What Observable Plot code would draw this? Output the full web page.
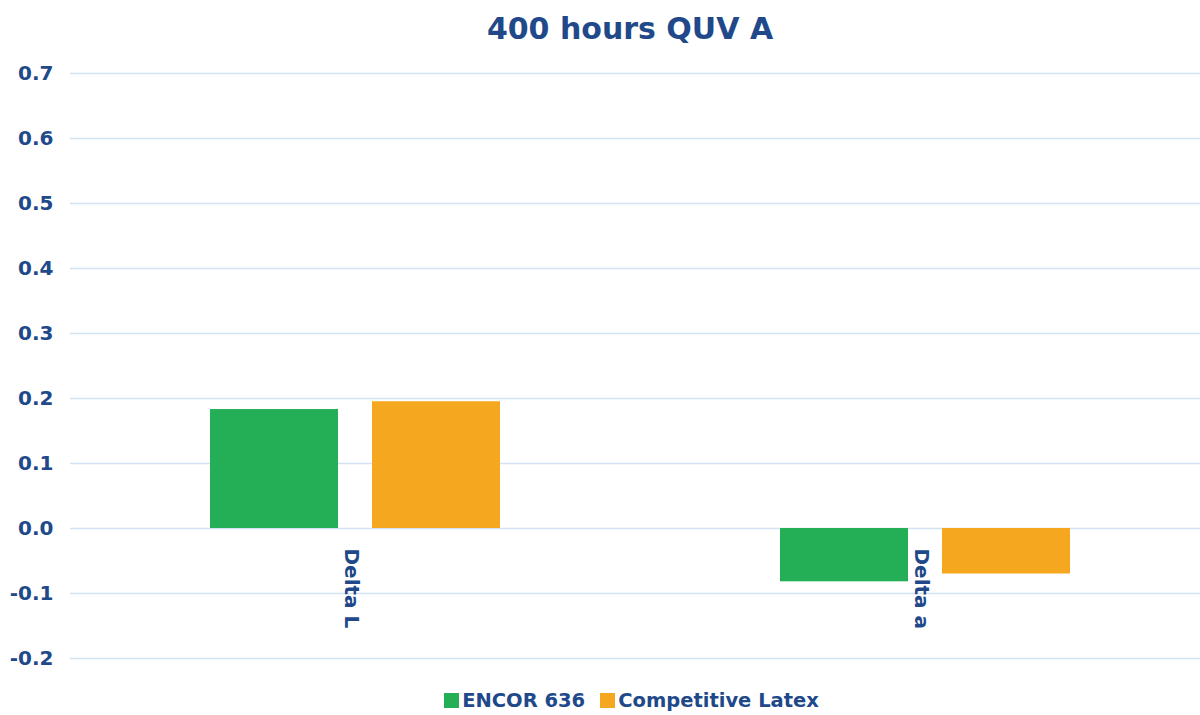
<!DOCTYPE html>
<html>
<head>
<meta charset="utf-8">
<script src="https://cdn.jsdelivr.net/npm/d3@7"></script>
<script src="https://cdn.jsdelivr.net/npm/@observablehq/plot@0.6"></script>
<style>
  html, body { margin: 0; padding: 0; background: #fff; }
  body { width: 1200px; height: 715px; overflow: hidden; font-family: "DejaVu Sans", Verdana, sans-serif; font-weight: bold; color: #21498A; }
  #title { height: 55px; line-height: 58px; text-align: center; font-size: 30px; padding-left: 60px; }
  #legend { height: 30px; display: flex; justify-content: center; align-items: center; font-size: 19.5px; padding-left: 78px; }
  .sw { width: 15px; height: 15px; display: inline-block; margin-right: 3px; }
  .item { display: flex; align-items: center; margin-right: 15px; }
  svg { display: block; }
</style>
</head>
<body>
<div id="title">400 hours QUV A</div>
<div id="chart"></div>
<div id="legend"></div>
<script>
const categories = ["Delta L", "Delta a"];
const series = ["ENCOR 636", "Competitive Latex"];
const encorValues = [0.183, -0.082];
const competitiveValues = [0.195, -0.070];
const yTicks = [-0.2, -0.1, 0.0, 0.1, 0.2, 0.3, 0.4, 0.5, 0.6, 0.7];
const colors = ["#24AE55", "#F5A81F"];
const textColor = "#21498A";
const gridColor = "#D2E3F3";

const data = [];
categories.forEach((c, i) => {
  data.push({category: c, series: series[0], value: encorValues[i]});
  data.push({category: c, series: series[1], value: competitiveValues[i]});
});

const chart = Plot.plot({
  width: 1200,
  height: 630,
  marginTop: 18,
  marginBottom: 27,
  marginLeft: 69,
  marginRight: 0,
  style: {fontFamily: "DejaVu Sans, sans-serif", fontWeight: "bold", color: textColor, background: "#fff", overflow: "visible"},
  fx: {domain: categories, range: [69, 1210], padding: 0, axis: null},
  x: {domain: series, paddingInner: 0.21, paddingOuter: 0.864, axis: null},
  y: {domain: [-0.2, 0.7], axis: null},
  color: {domain: series, range: colors},
  marks: [
    Plot.gridY(yTicks, {stroke: gridColor, strokeOpacity: 1, strokeWidth: 1.5}),
    Plot.axisY(yTicks, {tickSize: 0, tickPadding: 17, fontSize: 20, fill: textColor, tickFormat: d => d.toFixed(1), anchor: "left", label: null}),
    Plot.barY(data, {fx: "category", x: "series", y: "value", fill: "series"}),
    Plot.text(categories, {fx: d => d, text: d => d, y: 0, rotate: 90, textAnchor: "start", dy: 20, dx: -4, fontSize: 20, fill: textColor})
  ]
});
document.getElementById("chart").appendChild(chart);

const legend = document.getElementById("legend");
series.forEach((s, i) => {
  const item = document.createElement("div");
  item.className = "item";
  const sw = document.createElement("span");
  sw.className = "sw";
  sw.style.background = colors[i];
  item.appendChild(sw);
  item.appendChild(document.createTextNode(s));
  legend.appendChild(item);
});
</script>
</body>
</html>
